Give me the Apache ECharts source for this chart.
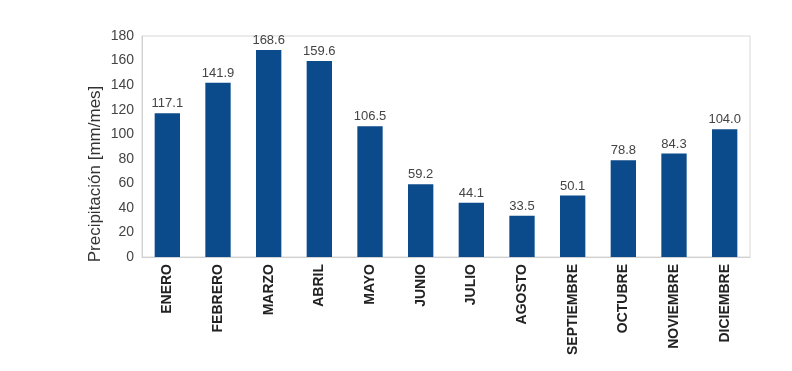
<!DOCTYPE html>
<html><head><meta charset="utf-8">
<script src="https://cdn.jsdelivr.net/npm/echarts@6/dist/echarts.min.js"></script>
<style>html,body{margin:0;padding:0;background:#fff}#c{width:792px;height:371px}</style>
</head><body><div id="c"></div>
<script>
const categories = ["ENERO","FEBRERO","MARZO","ABRIL","MAYO","JUNIO","JULIO","AGOSTO","SEPTIEMBRE","OCTUBRE","NOVIEMBRE","DICIEMBRE"];
const values = [117.1,141.9,168.6,159.6,106.5,59.2,44.1,33.5,50.1,78.8,84.3,104.0];
const yTitle = "Precipitación [mm/mes]";
const chart = echarts.init(document.getElementById('c'));
chart.setOption({
  animation:false,
  grid:{left:142,right:42,top:36,bottom:114,show:true,borderColor:'#d8d8d8',borderWidth:1},
  graphic:[{type:'text',x:95,y:174,rotation:Math.PI/2,
    style:{text:yTitle,align:'center',verticalAlign:'middle',fontFamily:'Liberation Sans',fontSize:17,fill:'#333'}}],
  xAxis:{type:'category',data:categories,
    axisLine:{lineStyle:{color:'#d0d0d0'}},axisTick:{show:false},
    axisLabel:{rotate:90,interval:0,fontFamily:'Liberation Sans',fontWeight:'bold',fontSize:14,color:'#222',margin:7}},
  yAxis:{type:'value',min:0,max:180,interval:20,
    axisLine:{show:true,lineStyle:{color:'#d0d0d0'}},axisTick:{show:false},splitLine:{show:false},
    axisLabel:{fontFamily:'Liberation Sans',fontSize:14,color:'#444',margin:8}},
  series:[{type:'bar',data:values,barWidth:'50%',itemStyle:{color:'#0b4a8b'},
    label:{show:true,position:'top',distance:3,fontFamily:'Liberation Sans',fontSize:13,color:'#444',
      formatter:p=>p.value.toFixed(1)}}]
});
</script></body></html>
